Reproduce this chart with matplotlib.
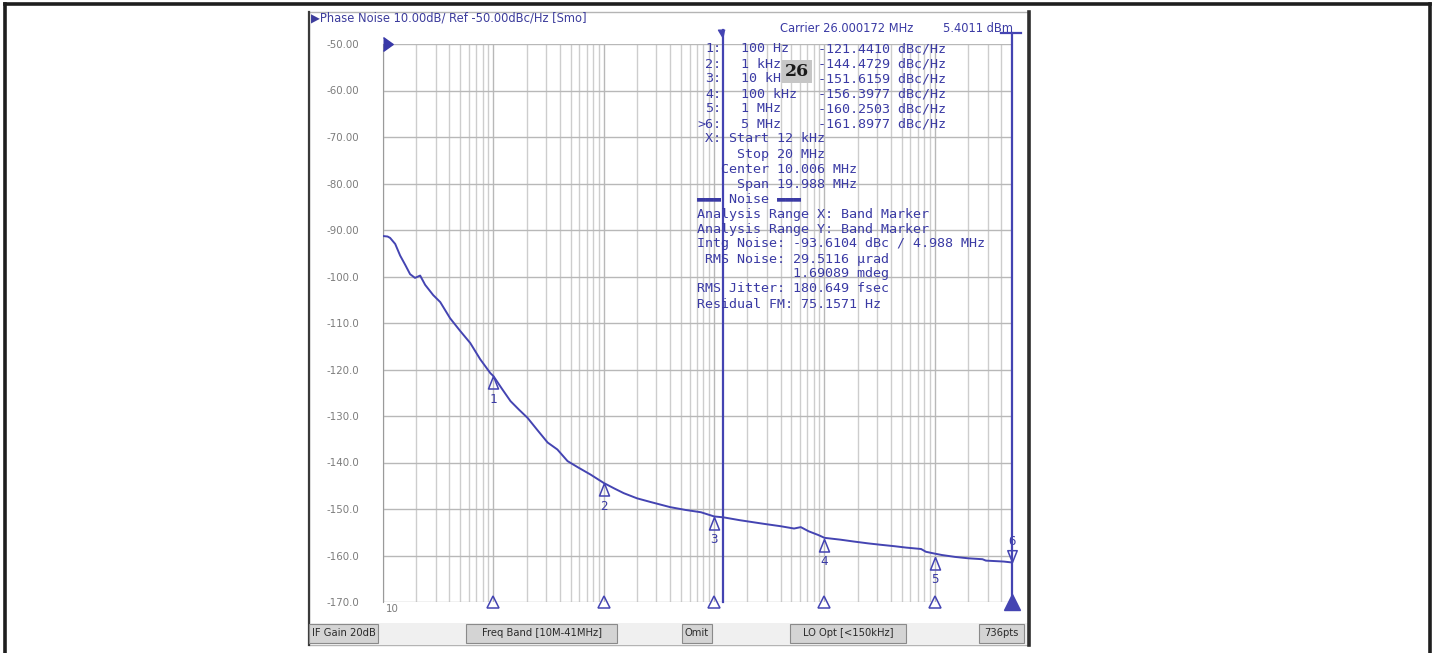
import numpy as np
import matplotlib
matplotlib.use('Agg')
import matplotlib.pyplot as plt
from matplotlib.patches import Rectangle
from matplotlib.lines import Line2D

W, H = 1434, 653

# measured trace, offset frequency (Hz) vs phase noise (dBc/Hz)
freq = [10, 11, 11.6, 12.9, 14.3, 15.9, 17.6, 19.5, 21.7, 24.1, 28.5, 33, 40.6, 50,
        61.7, 76, 94, 100, 120, 143, 170, 204, 250, 310, 380, 470, 580, 760, 1000,
        1250, 1520, 2000, 2660, 4000, 5500, 7600, 10000, 12200, 17000, 28400, 40000,
        53000, 61000, 72000, 88000, 100000, 140000, 185000, 250000, 325000, 430000,
        550000, 750000, 830000, 1000000, 1160000, 1520000, 2000000, 2700000, 2900000,
        3500000, 4200000, 5000000]
noise = [-91.3, -91.4, -91.7, -93.0, -95.5, -97.5, -99.5, -100.3, -99.8, -101.8, -104.0,
         -105.5, -109.0, -111.7, -114.3, -117.8, -120.8, -121.4, -124.2, -126.8, -128.6,
         -130.4, -133.0, -135.7, -137.2, -139.7, -141.0, -142.6, -144.4, -145.6, -146.6,
         -147.7, -148.5, -149.6, -150.2, -150.7, -151.6, -151.8, -152.4, -153.2, -153.7,
         -154.2, -153.9, -154.8, -155.6, -156.2, -156.6, -157.0, -157.4, -157.7, -158.0,
         -158.3, -158.6, -159.2, -159.6, -159.9, -160.3, -160.6, -160.8, -161.1, -161.2,
         -161.3, -161.5]

marker_ids = ['1', '2', '3', '4', '5', '6']
marker_freq = [100, 1e3, 1e4, 1e5, 1e6, 5e6]
marker_val = [-121.4410, -144.4729, -151.6159, -156.3977, -160.2503, -161.8977]
marker_freq_txt = ['100 Hz', '1 kHz', '10 kHz', '100 kHz', '1 MHz', '5 MHz']
marker_row_txt = ['1:', '2:', '3:', '4:', '5:', '>6:']

band_start = 12e3
band_stop = 5e6
ref_level = -50
x_min, x_max = 10, 5e6
y_ticks = [-50, -60, -70, -80, -90, -100, -110, -120, -130, -140, -150, -160, -170]
y_labels = ['-50.00', '-60.00', '-70.00', '-80.00', '-90.00', '-100.0', '-110.0',
            '-120.0', '-130.0', '-140.0', '-150.0', '-160.0', '-170.0']

info_lines = [' X: Start 12 kHz',
              '     Stop 20 MHz',
              '   Center 10.006 MHz',
              '     Span 19.988 MHz',
              '▬▬▬ Noise ▬▬▬',
              'Analysis Range X: Band Marker',
              'Analysis Range Y: Band Marker',
              'Intg Noise: -93.6104 dBc / 4.988 MHz',
              ' RMS Noise: 29.5116 µrad',
              '            1.69089 mdeg',
              'RMS Jitter: 180.649 fsec',
              'Residual FM: 75.1571 Hz']

status_items = ['IF Gain 20dB', 'Freq Band [10M-41MHz]', 'Omit', 'LO Opt [<150kHz]', '736pts']
status_box_x = [(309, 378), (466, 617), (682, 712), (790, 906), (979, 1024)]

BLUE = '#4444b2'
TXT = '#3a3aa4'
GRAY = '#7c7c7c'


def fx(x):
    return x / W


def fy(y):
    return 1 - y / H


fig = plt.figure(figsize=(W / 100, H / 100), dpi=100)
fig.patch.set_facecolor('white')

# outer page border (open at the bottom)
for xs, ys in [((5, 5), (4, 653)), ((5, 1430), (4, 4)), ((1430, 1430), (4, 653))]:
    fig.add_artist(Line2D([fx(v) for v in xs], [fy(v) for v in ys], color='#1e1e1e', lw=2.6))

# analyzer window frame
fig.add_artist(Rectangle((fx(309), fy(645)), fx(1029 - 309), (645 - 12) / H,
                         facecolor='white', edgecolor='#b4b4b4', lw=1.0, zorder=0))
fig.add_artist(Line2D([fx(309), fx(309)], [fy(12), fy(645)], color='#3a3a3a', lw=1.6))
fig.add_artist(Line2D([fx(1029), fx(1029)], [fy(12), fy(645)], color='#2e2e2e', lw=2.6))

# status bar
fig.add_artist(Rectangle((fx(310), fy(644)), fx(1028 - 310), 21 / H,
                         facecolor='#f0f0f0', edgecolor='none', zorder=1))
for label, (x0, x1) in zip(status_items, status_box_x):
    fig.add_artist(Rectangle((fx(x0), fy(643)), fx(x1 - x0), 19 / H,
                             facecolor='#d4d4d4', edgecolor='#8a8a8a', lw=0.8, zorder=2))
    fig.text(fx((x0 + x1) / 2), fy(633.5), label, ha='center', va='center',
             fontsize=7.2, color='#2a2a2a', zorder=3)

# title line
fig.text(fx(311), fy(18), '▶Phase Noise 10.00dB/ Ref -50.00dBc/Hz [Smo]',
         fontsize=8.3, color='#3c3c9c', va='center', ha='left')

ax_top, ax_bot = 44, 602
ax = fig.add_axes([fx(383), fy(ax_bot), fx(1012 - 383), (ax_bot - ax_top) / H])
ax.set_facecolor('none')
ax.set_xscale('log')
ax.set_xlim(x_min, x_max)
ax.set_ylim(-170, -50)
ax.set_yticks(y_ticks)
ax.set_yticklabels(y_labels)
ax.tick_params(axis='y', length=0, pad=17, labelsize=7.4, labelcolor=GRAY)
ax.tick_params(axis='x', which='both', length=0, labelbottom=False)
ax.grid(which='major', axis='both', color='#b8b8b8', lw=1.0)
ax.grid(which='minor', axis='x', color='#cdcdcd', lw=1.0)
for s in ['top', 'right', 'bottom']:
    ax.spines[s].set_visible(False)
ax.spines['left'].set_color('#9a9a9a')

ax.text(0.005, -0.004, '10', transform=ax.transAxes, ha='left', va='top',
        fontsize=7.4, color=GRAY)

# trace
ax.plot(freq, noise, color=BLUE, lw=1.4, zorder=4)

# band markers
xtr = ax.get_xaxis_transform()
ax.plot([band_start, band_start], [0, 1.025], transform=xtr, color=BLUE, lw=1.6,
        clip_on=False, zorder=5)
ax.plot([band_stop, band_stop], [0, 1.02], transform=xtr, color=BLUE, lw=1.6,
        clip_on=False, zorder=5)
ax.plot([band_start], [1.01], transform=xtr, marker=[(0, 0), (-0.6, 1), (0.2, 1)],
        ms=12, color=BLUE, clip_on=False, zorder=6)
ax.plot([band_stop / 1.25, band_stop * 1.2], [1.02, 1.02], transform=xtr, color=BLUE,
        lw=1.6, clip_on=False, zorder=6)
ax.plot([band_stop], [-170], marker='^', ms=11, color=BLUE, clip_on=False, zorder=6)

# reference level arrow
ax.plot([x_min], [ref_level], marker=[(0, 0.5), (0.7, 0), (0, -0.5)], ms=14,
        color='#3838a8', clip_on=False, zorder=6)

# delta markers on the trace
up_tri = [(0, 0), (-0.4, -1), (0.4, -1), (0, 0)]
down_tri = [(0, 0), (-0.4, 1), (0.4, 1), (0, 0)]
for mid, mf, mv in zip(marker_ids, marker_freq, marker_val):
    if mid == '6':
        ax.plot([mf], [mv + 0.6], marker=down_tri, ms=17, mfc='none', mec=BLUE, mew=1.1,
                clip_on=False, zorder=6)
        ax.annotate(mid, (mf, mv + 0.6), xytext=(0, 10), textcoords='offset points',
                    ha='center', va='bottom', fontsize=9, color=TXT,
                    family='DejaVu Sans Mono', annotation_clip=False)
    else:
        ax.plot([mf], [mv], marker=up_tri, ms=18, mfc='none', mec=BLUE, mew=1.1, zorder=6)
        ax.annotate(mid, (mf, mv), xytext=(0, -12), textcoords='offset points',
                    ha='center', va='top', fontsize=9, color=TXT,
                    family='DejaVu Sans Mono')
        ax.plot([mf], [-170], marker='^', ms=9, mfc='none', mec=BLUE, mew=1.1,
                clip_on=False, zorder=6)

# marker table
fig.text(fx(780), fy(29), 'Carrier 26.000172 MHz', fontsize=8.3, color=TXT, va='center')
fig.text(fx(943), fy(29), '5.4011 dBm', fontsize=8.3, color=TXT, va='center')
row_y0, row_dy = 49, 15.0
for i, (rt, ft, mv) in enumerate(zip(marker_row_txt, marker_freq_txt, marker_val)):
    y = row_y0 + i * row_dy
    fig.text(fx(721), fy(y), rt, ha='right', va='center', fontsize=9.6, color=TXT,
             family='DejaVu Sans Mono')
    fig.text(fx(741), fy(y), ft, ha='left', va='center', fontsize=9.6, color=TXT,
             family='DejaVu Sans Mono')
    fig.text(fx(818), fy(y), f'{mv:.4f} dBc/Hz', ha='left', va='center', fontsize=9.6,
             color=TXT, family='DejaVu Sans Mono')

info_y0 = row_y0 + len(marker_ids) * row_dy
for i, line in enumerate(info_lines):
    fig.text(fx(697), fy(info_y0 + i * row_dy), line, ha='left', va='center',
             fontsize=9.6, color=TXT, family='DejaVu Sans Mono')

# page number tag
fig.text(fx(797), fy(row_y0 + 1.5 * row_dy), '26', ha='center', va='center', fontsize=12.5,
         fontweight='bold', family='DejaVu Serif', color='#1a1a1a', zorder=10,
         bbox=dict(boxstyle='square,pad=0.15', facecolor='#c6c6c6', edgecolor='none'))

fig.savefig('out.png', dpi=100)
